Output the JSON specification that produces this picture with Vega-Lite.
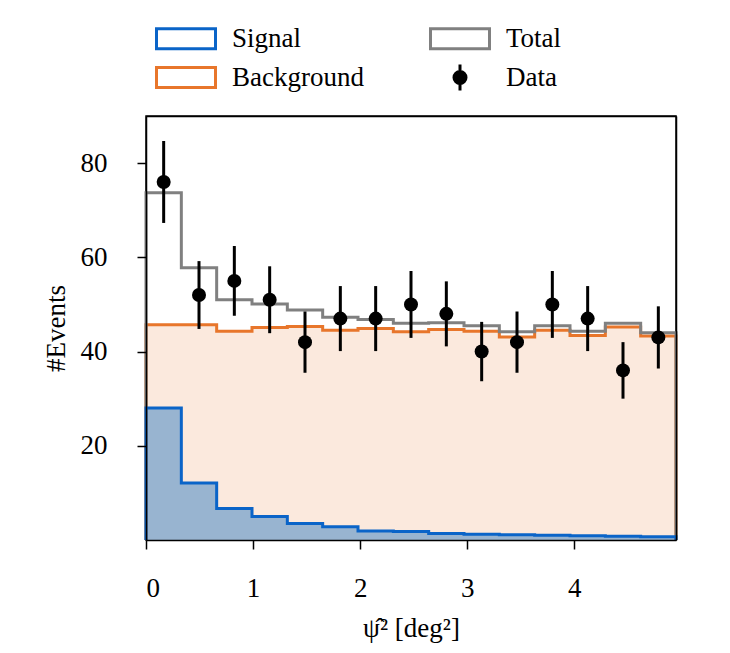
{
  "$schema": "https://vega.github.io/schema/vega-lite/v6.json",
  "autosize": {"type": "none"},
  "width": 530,
  "height": 424,
  "padding": {"left": 146, "top": 116, "right": 54, "bottom": 113},
  "background": "white",
  "config": {
    "font": "Liberation Serif",
    "view": {"stroke": "black", "strokeWidth": 1.5},
    "axis": {
      "grid": false,
      "zindex": 1,
      "domainColor": "black",
      "domainWidth": 1.5,
      "tickColor": "black",
      "tickWidth": 1.5,
      "tickSize": 9,
      "labelFont": "Liberation Serif",
      "labelFontSize": 27,
      "labelColor": "black",
      "titleFont": "Liberation Serif",
      "titleFontSize": 27,
      "titleFontWeight": "normal",
      "titleColor": "black"
    },
    "axisX": {"labelPadding": 26, "titlePadding": 14},
    "axisY": {"labelPadding": 30, "titlePadding": 10},
    "legend": {
      "orient": "none",
      "legendX": 7,
      "legendY": -91,
      "columns": 2,
      "columnPadding": 60,
      "rowPadding": 3,
      "padding": 0,
      "labelFont": "Liberation Serif",
      "labelFontSize": 27,
      "labelColor": "black",
      "labelOffset": 52,
      "symbolSize": 400,
      "symbolStrokeWidth": 3,
      "symbolOpacity": 1,
      "title": null
    }
  },
  "datasets": {
    "steps": [
      {"i": 0, "x": 0, "signal": 0, "background": 0, "total": 0},
      {"i": 1, "x": 0, "signal": 28, "background": 45.7, "total": 73.7},
      {"i": 2, "x": 0.33, "signal": 12.1, "background": 45.7, "total": 57.8},
      {"i": 3, "x": 0.66, "signal": 6.7, "background": 44.3, "total": 51.0},
      {"i": 4, "x": 0.99, "signal": 5.0, "background": 45.1, "total": 50.1},
      {"i": 5, "x": 1.32, "signal": 3.5, "background": 45.3, "total": 48.8},
      {"i": 6, "x": 1.65, "signal": 2.8, "background": 44.5, "total": 47.3},
      {"i": 7, "x": 1.98, "signal": 1.9, "background": 44.9, "total": 46.8},
      {"i": 8, "x": 2.31, "signal": 1.8, "background": 44.2, "total": 46.0},
      {"i": 9, "x": 2.64, "signal": 1.4, "background": 44.7, "total": 46.1},
      {"i": 10, "x": 2.97, "signal": 1.2, "background": 44.3, "total": 45.5},
      {"i": 11, "x": 3.30, "signal": 1.1, "background": 43.1, "total": 44.2},
      {"i": 12, "x": 3.63, "signal": 1.0, "background": 44.5, "total": 45.5},
      {"i": 13, "x": 3.96, "signal": 0.9, "background": 43.4, "total": 44.3},
      {"i": 14, "x": 4.29, "signal": 0.8, "background": 45.2, "total": 46.0},
      {"i": 15, "x": 4.62, "signal": 0.7, "background": 43.3, "total": 44.0},
      {"i": 16, "x": 4.95, "signal": 0.7, "background": 43.3, "total": 44.0},
      {"i": 17, "x": 4.95, "signal": 0, "background": 0, "total": 0}
    ],
    "points": [
      {"series": "Data", "center": 0.165, "n": 76, "lo": 67.3, "hi": 84.7},
      {"series": "Data", "center": 0.495, "n": 52, "lo": 44.8, "hi": 59.2},
      {"series": "Data", "center": 0.825, "n": 55, "lo": 47.6, "hi": 62.4},
      {"series": "Data", "center": 1.155, "n": 51, "lo": 43.9, "hi": 58.1},
      {"series": "Data", "center": 1.485, "n": 42, "lo": 35.5, "hi": 48.5},
      {"series": "Data", "center": 1.815, "n": 47, "lo": 40.1, "hi": 53.9},
      {"series": "Data", "center": 2.145, "n": 47, "lo": 40.1, "hi": 53.9},
      {"series": "Data", "center": 2.475, "n": 50, "lo": 42.9, "hi": 57.1},
      {"series": "Data", "center": 2.805, "n": 48, "lo": 41.1, "hi": 54.9},
      {"series": "Data", "center": 3.135, "n": 40, "lo": 33.7, "hi": 46.3},
      {"series": "Data", "center": 3.465, "n": 42, "lo": 35.5, "hi": 48.5},
      {"series": "Data", "center": 3.795, "n": 50, "lo": 42.9, "hi": 57.1},
      {"series": "Data", "center": 4.125, "n": 47, "lo": 40.1, "hi": 53.9},
      {"series": "Data", "center": 4.455, "n": 36, "lo": 30.0, "hi": 42.0},
      {"series": "Data", "center": 4.785, "n": 43, "lo": 36.4, "hi": 49.6}
    ]
  },
  "layer": [
    {
      "data": {"name": "steps"},
      "mark": {"type": "area", "interpolate": "step-after", "color": "#fbe9dd"},
      "encoding": {
        "x": {"field": "x", "type": "quantitative", "scale": {"domain": [0, 4.95], "nice": false, "zero": false},
              "axis": {"orient": "bottom", "values": [0, 1, 2, 3, 4], "title": "ψ̂² [deg²]", "format": "d", "zindex": 1}},
        "y": {"field": "background", "type": "quantitative", "stack": null, "scale": {"domain": [0, 90], "nice": false},
              "axis": {"orient": "left", "values": [20, 40, 60, 80], "title": "#Events", "zindex": 1}}
      }
    },
    {
      "data": {"name": "steps"},
      "mark": {"type": "area", "interpolate": "step-after", "color": "#98b4d0"},
      "encoding": {
        "x": {"field": "x", "type": "quantitative",
              "axis": {"orient": "top", "labels": false, "ticks": false, "title": null, "zindex": 1}},
        "y": {"field": "signal", "type": "quantitative", "stack": null,
              "axis": {"orient": "right", "labels": false, "ticks": false, "title": null, "zindex": 1}}
      }
    },
    {
      "data": {"name": "steps"},
      "mark": {"type": "line", "interpolate": "step-after", "color": "#e8762b", "strokeWidth": 3, "strokeJoin": "miter"},
      "encoding": {
        "x": {"field": "x", "type": "quantitative", "axis": null},
        "y": {"field": "background", "type": "quantitative", "axis": null},
        "order": {"field": "i", "type": "quantitative"}
      }
    },
    {
      "data": {"name": "steps"},
      "mark": {"type": "line", "interpolate": "step-after", "color": "#808080", "strokeWidth": 3, "strokeJoin": "miter"},
      "encoding": {
        "x": {"field": "x", "type": "quantitative", "axis": null},
        "y": {"field": "total", "type": "quantitative", "axis": null},
        "order": {"field": "i", "type": "quantitative"}
      }
    },
    {
      "data": {"name": "steps"},
      "mark": {"type": "line", "interpolate": "step-after", "color": "#0a64c8", "strokeWidth": 3, "strokeJoin": "miter"},
      "encoding": {
        "x": {"field": "x", "type": "quantitative", "axis": null},
        "y": {"field": "signal", "type": "quantitative", "axis": null},
        "order": {"field": "i", "type": "quantitative"}
      }
    },
    {
      "data": {"name": "points"},
      "mark": {"type": "rule", "color": "black", "strokeWidth": 3},
      "encoding": {
        "x": {"field": "center", "type": "quantitative", "axis": null},
        "y": {"field": "lo", "type": "quantitative", "axis": null},
        "y2": {"field": "hi"}
      }
    },
    {
      "data": {"name": "points"},
      "mark": {"type": "point", "shape": "circle", "filled": true, "opacity": 1, "size": 196, "color": "black"},
      "encoding": {
        "x": {"field": "center", "type": "quantitative", "axis": null},
        "y": {"field": "n", "type": "quantitative", "axis": null}
      }
    },
    {
      "data": {"name": "points"},
      "transform": [{"filter": "false"}],
      "mark": {"type": "point", "filled": true, "opacity": 1, "strokeWidth": 3},
      "encoding": {
        "x": {"field": "center", "type": "quantitative", "axis": null},
        "y": {"field": "n", "type": "quantitative", "axis": null},
        "fill": {"field": "series", "type": "nominal",
                 "scale": {"domain": ["Signal", "Background", "Total", "Data"], "range": ["white", "white", "white", "black"]}},
        "stroke": {"field": "series", "type": "nominal",
                   "scale": {"domain": ["Signal", "Background", "Total", "Data"], "range": ["#0a64c8", "#e8762b", "#808080", "black"]}},
        "shape": {"field": "series", "type": "nominal",
                  "scale": {"domain": ["Signal", "Background", "Total", "Data"],
                            "range": ["M-1,-1H4.9V1H-1Z", "M-1,-1H4.9V1H-1Z", "M-1,-1H4.9V1H-1Z",
                                      "M1.95,-1.3V1.3M1.35,0A0.6,0.6 0 1,0 2.55,0A0.6,0.6 0 1,0 1.35,0Z"]}}
      }
    }
  ]
}
